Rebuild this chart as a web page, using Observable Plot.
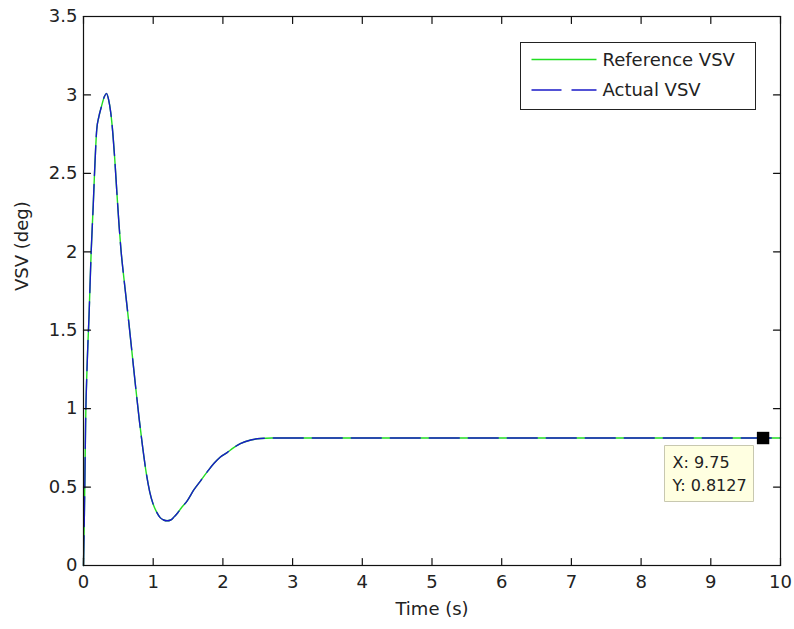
<!DOCTYPE html>
<html>
<head>
<meta charset="utf-8">
<script src="https://cdn.jsdelivr.net/npm/d3@7"></script>
<script src="https://cdn.jsdelivr.net/npm/@observablehq/plot@0.6"></script>
<style>
  html, body { margin: 0; padding: 0; background: #fff; }
  #wrap { position: relative; width: 794px; height: 629px; font-family: "DejaVu Sans", sans-serif; }
  #legend { position: absolute; left: 520px; top: 42px; width: 236px; height: 68px; box-sizing: border-box; border: 1.5px solid #222; background: #fff; }
</style>
</head>
<body>
<div id="wrap"></div>
<script>
// Time (s)
const time = [0, 0.01, 0.02, 0.03, 0.05, 0.08, 0.11, 0.14, 0.16, 0.19, 0.22, 0.26, 0.30, 0.33,
  0.36, 0.39, 0.42, 0.45, 0.48, 0.51, 0.54, 0.57, 0.60, 0.65, 0.70, 0.75, 0.80, 0.85, 0.90, 0.95,
  1.00, 1.05, 1.10, 1.15, 1.20, 1.25, 1.30, 1.35, 1.40, 1.49, 1.58, 1.68, 1.78, 1.87, 1.96, 2.06,
  2.15, 2.25, 2.40, 2.54, 2.70, 2.85, 3.0, 4.0, 5.0, 6.0, 7.0, 8.0, 9.0, 9.75, 10.0];
// Reference VSV (deg)
const referenceVSV = [0, 0.25, 0.55, 0.9, 1.25, 1.6, 2.0, 2.3, 2.52, 2.78, 2.86, 2.93, 2.99, 3.01,
  2.97, 2.89, 2.76, 2.58, 2.37, 2.17, 2.0, 1.87, 1.75, 1.55, 1.34, 1.13, 0.93, 0.75, 0.59, 0.47,
  0.39, 0.34, 0.305, 0.29, 0.285, 0.29, 0.31, 0.335, 0.365, 0.414, 0.48, 0.54, 0.60, 0.65, 0.69, 0.72,
  0.75, 0.777, 0.80, 0.81, 0.8127, 0.8127, 0.8127, 0.8127, 0.8127, 0.8127, 0.8127, 0.8127, 0.8127, 0.8127, 0.8127];
// Actual VSV (deg)
const actualVSV = [0, 0.25, 0.55, 0.9, 1.25, 1.6, 2.0, 2.3, 2.52, 2.78, 2.86, 2.93, 2.99, 3.01,
  2.97, 2.89, 2.76, 2.58, 2.37, 2.17, 2.0, 1.87, 1.75, 1.55, 1.34, 1.13, 0.93, 0.75, 0.59, 0.47,
  0.39, 0.34, 0.305, 0.29, 0.285, 0.29, 0.31, 0.335, 0.365, 0.414, 0.48, 0.54, 0.60, 0.65, 0.69, 0.72,
  0.75, 0.777, 0.80, 0.81, 0.8127, 0.8127, 0.8127, 0.8127, 0.8127, 0.8127, 0.8127, 0.8127, 0.8127, 0.8127, 0.8127];

const xTicks = [0, 1, 2, 3, 4, 5, 6, 7, 8, 9, 10];
const yTicks = [0, 0.5, 1, 1.5, 2, 2.5, 3, 3.5];
const seriesNames = ["Reference VSV", "Actual VSV"];
const dataTip = [{x: 9.75, y: 0.8127}];

const green = "#22dd22";
const blue = "#1a1ac8";
const font = "DejaVu Sans, sans-serif";

const rows = time.map((t, i) => ({t, ref: referenceVSV[i], act: actualVSV[i]}));

const tickShape = { draw(context, l) { context.moveTo(0, 0); context.lineTo(0, -l); } };

const chart = Plot.plot({
  width: 794,
  height: 629,
  marginLeft: 83,
  marginRight: 14,
  marginTop: 16,
  marginBottom: 64,
  style: { fontFamily: font, fontSize: "18px", color: "#222", background: "#fff" },
  x: { domain: [0, 10] },
  y: { domain: [0, 3.5] },
  marks: [
    Plot.line(rows, { x: "t", y: "ref", stroke: green, strokeWidth: 1.4, curve: "monotone-x" }),
    Plot.line(rows, { x: "t", y: "act", stroke: blue, strokeWidth: 1.4, strokeDasharray: "30,9", curve: "monotone-x" }),
    Plot.frame({ stroke: "#111", strokeWidth: 1.2 }),
    // inward ticks on all four sides
    Plot.vector(xTicks, { x: d => d, y: 0, length: 7, rotate: 0, anchor: "start", shape: tickShape, stroke: "#111", strokeWidth: 1.2 }),
    Plot.vector(xTicks, { x: d => d, y: 3.5, length: 7, rotate: 180, anchor: "start", shape: tickShape, stroke: "#111", strokeWidth: 1.2 }),
    Plot.vector(yTicks, { y: d => d, x: 0, length: 7, rotate: 90, anchor: "start", shape: tickShape, stroke: "#111", strokeWidth: 1.2 }),
    Plot.vector(yTicks, { y: d => d, x: 10, length: 7, rotate: 270, anchor: "start", shape: tickShape, stroke: "#111", strokeWidth: 1.2 }),
    Plot.axisX({ ticks: xTicks, tickSize: 0, tickPadding: 10, tickFormat: d => String(d), label: null, fontSize: 18 }),
    Plot.axisY({ ticks: yTicks, tickSize: 0, tickPadding: 6, tickFormat: d => String(d), label: null, fontSize: 18 }),
    Plot.text(["Time (s)"], { frameAnchor: "bottom", dy: 49, lineAnchor: "bottom", fontSize: 18 }),
    Plot.text(["VSV (deg)"], { frameAnchor: "left", dx: -61, rotate: -90, fontSize: 18 }),
    Plot.dot(dataTip, { x: "x", y: "y", symbol: "square", r: 7, fill: "#000" }),
    Plot.tip(dataTip, {
      x: "x", y: "y",
      title: d => `X: ${d.x}\nY: ${d.y}`,
      anchor: "top-right", pointerSize: 0, dx: -10, dy: 7,
      fill: "#ffffe1", stroke: "#c8c8b0", pathFilter: "none",
      fontSize: 16, fontFamily: font, lineHeight: 1.45, textPadding: 7
    })
  ]
});

const wrap = document.getElementById("wrap");
wrap.appendChild(chart);

// legend inside the axes (top-right), as in the reference
const legend = document.createElement("div");
legend.id = "legend";
const svgNS = "http://www.w3.org/2000/svg";
const lsvg = document.createElementNS(svgNS, "svg");
lsvg.setAttribute("width", "233");
lsvg.setAttribute("height", "65");
lsvg.style.display = "block";
const legendColors = [green, blue];
const legendDash = [null, "30,10"];
seriesNames.forEach((name, i) => {
  const cy = 16.5 + i * 30.5;
  const line = document.createElementNS(svgNS, "line");
  line.setAttribute("x1", 10.5); line.setAttribute("x2", 75.5);
  line.setAttribute("y1", cy); line.setAttribute("y2", cy);
  line.setAttribute("stroke", legendColors[i]);
  line.setAttribute("stroke-width", 1.4);
  if (legendDash[i]) line.setAttribute("stroke-dasharray", legendDash[i]);
  lsvg.appendChild(line);
  const text = document.createElementNS(svgNS, "text");
  text.setAttribute("x", 81.5);
  text.setAttribute("y", cy);
  text.setAttribute("dy", "0.35em");
  text.setAttribute("font-family", font);
  text.setAttribute("font-size", 18);
  text.setAttribute("fill", "#222");
  text.textContent = name;
  lsvg.appendChild(text);
});
legend.appendChild(lsvg);
wrap.appendChild(legend);
</script>
</body>
</html>
